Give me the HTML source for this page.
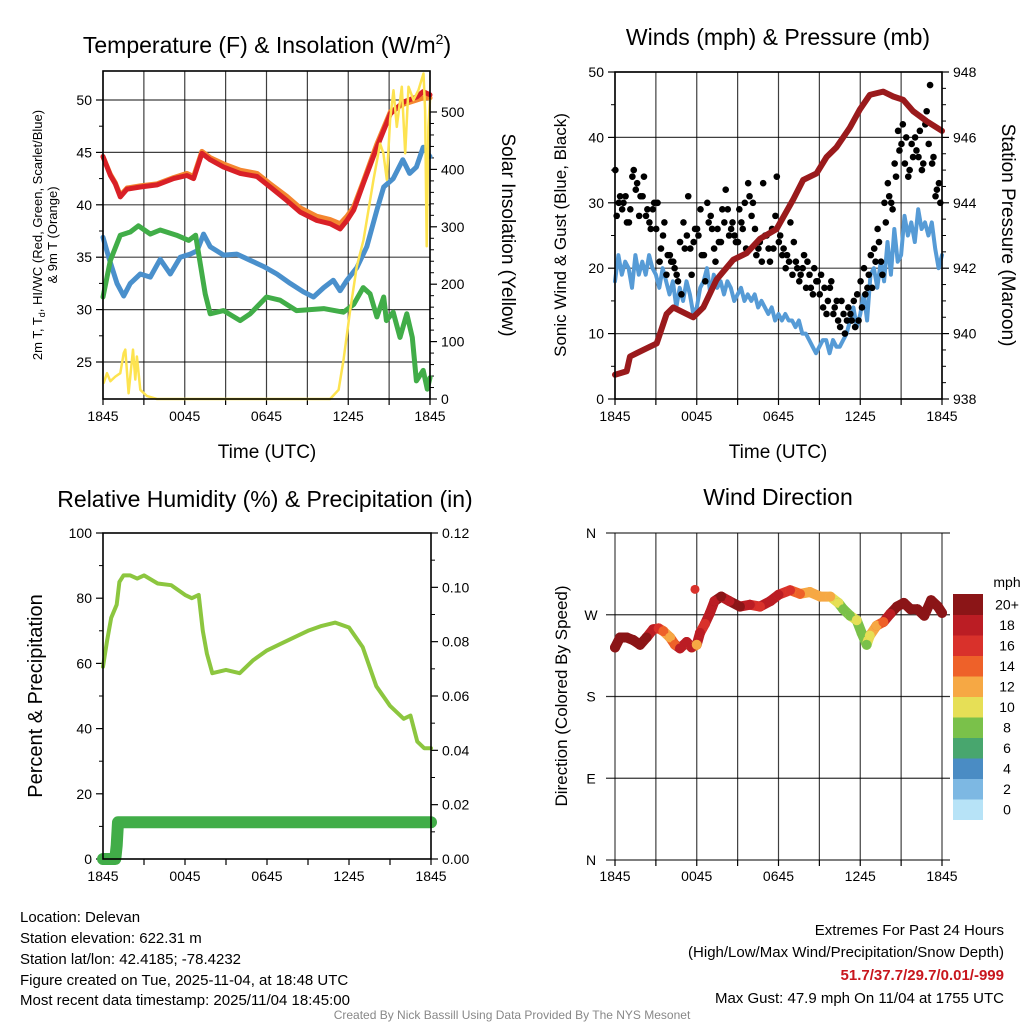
<!DOCTYPE html>
<html><head><meta charset="utf-8"><style>
body{margin:0;background:#fff}
svg{display:block;font-family:"Liberation Sans",sans-serif}
</style></head><body>
<svg id="s" width="1024" height="1024" viewBox="0 0 1024 1024" xmlns="http://www.w3.org/2000/svg">
<g id="static">
<text x="267" y="53" font-size="23" text-anchor="middle">Temperature (F) &amp; Insolation (W/m<tspan dy="-9" font-size="14">2</tspan><tspan dy="9">)</tspan></text>
<text x="778" y="45" font-size="23" text-anchor="middle">Winds (mph) &amp; Pressure (mb)</text>
<text x="265" y="507" font-size="23" text-anchor="middle">Relative Humidity (%) &amp; Precipitation (in)</text>
<text x="778" y="505" font-size="23" text-anchor="middle">Wind Direction</text>
<text x="267" y="458" font-size="19" text-anchor="middle">Time (UTC)</text>
<text x="778" y="458" font-size="19" text-anchor="middle">Time (UTC)</text>
<text transform="translate(42,235) rotate(-90)" font-size="13" text-anchor="middle">2m T, T<tspan font-size="9" dy="3">d</tspan><tspan dy="-3">, HI/WC (Red, Green, Scarlet/Blue)</tspan></text>
<text transform="translate(57,235) rotate(-90)" font-size="13" text-anchor="middle">&amp; 9m T (Orange)</text>
<text transform="translate(502,235) rotate(90)" font-size="19" text-anchor="middle">Solar Insolation (Yellow)</text>
<text transform="translate(566,235) rotate(-90)" font-size="17" text-anchor="middle">Sonic Wind &amp; Gust (Blue, Black)</text>
<text transform="translate(1002,235) rotate(90)" font-size="19" text-anchor="middle">Station Pressure (Maroon)</text>
<text transform="translate(42,696) rotate(-90)" font-size="20" text-anchor="middle">Percent &amp; Precipitation</text>
<text transform="translate(567,696) rotate(-90)" font-size="17" text-anchor="middle">Direction (Colored By Speed)</text>
<g font-size="15">
<text x="20" y="922">Location: Delevan</text>
<text x="20" y="943">Station elevation: 622.31 m</text>
<text x="20" y="964">Station lat/lon: 42.4185; -78.4232</text>
<text x="20" y="985">Figure created on Tue, 2025-11-04, at 18:48 UTC</text>
<text x="20" y="1005">Most recent data timestamp: 2025/11/04 18:45:00</text>
</g>
<g font-size="15" text-anchor="end">
<text x="1004" y="935">Extremes For Past 24 Hours</text>
<text x="1004" y="957">(High/Low/Max Wind/Precipitation/Snow Depth)</text>
<text x="1004" y="980" fill="#c8161d" font-weight="bold">51.7/37.7/29.7/0.01/-999</text>
<text x="1004" y="1003">Max Gust: 47.9 mph On 11/04 at 1755 UTC</text>
</g>
<text x="512" y="1019" font-size="12" fill="#888" text-anchor="middle">Created By Nick Bassill Using Data Provided By The NYS Mesonet</text>
</g>
<g id="dyn"></g>
</svg>
<script>
// ---------- Temperature panel data (hours since 1845) ----------
const redT=[0,0.54,0.9,1.27,1.76,2.74,3.96,5.18,6.16,6.65,7.26,7.87,8.85,10.07,11.3,12.27,13.5,14.47,15.7,16.67,17.4,17.9,18.4,19.1,20.1,21.1,22.05,23.03,23.5,24];
const redV=[44.6,42.8,42,40.75,41.5,41.7,41.9,42.5,42.8,42.5,44.9,44.3,43.6,43,42.7,41.7,40.4,39.3,38.5,38.2,37.7,38.5,39.5,42,45.5,48.7,49.8,50.3,50.8,50.5];
const orangeV=[44.6,42.9,42.1,40.9,41.6,41.8,42,42.6,43,42.7,45.1,44.5,43.9,43.3,43,42,40.8,39.7,38.9,38.6,38.2,38.9,39.8,42.2,45.8,48.9,49.6,50,50.2,50.2];
const blueT=[0,0.42,1.03,1.52,2,2.74,3.47,4.2,4.94,5.67,6.4,6.9,7.38,7.87,8.85,9.83,10.8,11.8,12.76,13.74,14.7,15.45,16.2,16.9,17.4,17.9,18.63,19.36,20.1,20.6,21.3,22,22.5,23,23.5,24];
const blueV=[36.9,35,32.5,31.3,32.5,33.4,33.1,34.8,33.4,35,35.3,35.6,37.2,36,35.2,35.3,34.7,34.1,33.4,32.5,31.7,31.2,32.1,32.8,31.8,32.8,34,36,39.5,41.7,42.5,44.3,43,43.6,45.5,44.6];
const greenT=[0,0.54,1.27,2,2.6,3.47,4.2,5.4,6.3,6.8,7.1,7.5,7.87,8.85,10.07,10.8,12,13,14.2,16.2,17.65,18.4,19.1,19.6,20.1,20.6,20.8,21.3,21.8,22.3,22.7,23,23.5,23.8,24];
const greenV=[31.2,34.7,37.1,37.4,38,37.2,37.6,37.1,36.6,37.1,34.7,31.5,29.6,29.9,28.95,29.6,31.2,30.9,29.9,30.1,29.75,30.5,32.1,31.5,29.3,31.2,28.95,29.75,27.35,29.6,27.35,23.2,24.2,22.4,23.5];
const solT=[0.05,0.29,0.54,0.9,1.27,1.52,1.64,1.88,2.2,2.37,2.49,2.74,3.23,3.96,16.67,17.29,17.65,18.14,18.63,19.12,19.85,20.34,20.58,20.83,21.07,21.32,21.56,21.93,22.18,22.42,22.79,23.15,23.52,23.64,23.76,23.88,24];
const solV=[28,45,31,39,45,80,86,10,86,34,74,16,5,0,0,16,68,155,231,277,382,445,428,382,486,538,474,544,428,544,521,538,567,503,266,474,521];
const tempTicks=[25,30,35,40,45,50];
const solTicks=[0,100,200,300,400,500];
const timeLabels=["1845","0045","0645","1245","1845"];
// ---------- Wind panel data ----------
const windV=[18,22,19,21,20,17,22,19,21,19,22,20,19,17,20,18,16,18,14,17,15,18,16,13,14,17,18,20,16,19,17,18,16,18,17,15,16,17,15,16,15,16,14,15,14,13,14,12,13,12,13,12,12,11,12,10,10,9,8,7,8,9,9,7,9,8,8,9,10,12,14,11,13,16,12,19,20,17,21,18,24,19,26,21,22,28,25,27,24,29,26,27,25,27,23,20,22];
const gustA=[28,31,30,27,29,35,33,31,34,29,26,30,30,23,27,22,21,20,18,16,23,31,19,26,25,22,18,27,26,21,24,29,32,25,27,24,29,26,23,31,30,22,24,33,25,21,23,34,25,23,22,27,24,20,19,22,21,17,20,18,19,17,15,18,14,12,15,10,14,12,11,12,14,16,19,17,21,24,19,27,31,29,34,38,42,40,35,37,38,41,36,44,48,37,32,30];
const gustB=[35,30,29,31,27,34,32,28,31,28,27,29,26,21,25,19,22,21,19,24,27,25,23,24,26,29,22,30,28,23,26,24,27,29,26,25,24,27,30,33,28,26,23,21,25,23,26,28,24,22,20,21,19,21,18,20,17,19,16,18,16,14,13,17,13,15,11,13,12,13,15,16,18,20,17,22,23,26,21,30,33,30,36,41,39,36,34,39,40,37,35,42,39,36,31,33];
const presT=[0,0.86,1.1,2.08,3.06,3.79,4.28,5.75,6.48,7.46,8.68,9.66,10.64,11.86,13.08,13.81,14.79,15.53,16.26,17.24,17.97,18.7,19.68,20.42,21.15,21.88,22.86,24];
const presV=[938.74,938.85,939.3,939.5,939.7,940.6,940.8,940.5,940.8,941.65,942.26,942.46,942.9,943.2,944.1,944.7,944.9,945.4,945.7,946.3,946.85,947.3,947.4,947.25,947.15,946.8,946.5,946.2];
const windTicks=[0,10,20,30,40,50];
const presTicks=[938,940,942,944,946,948];
// ---------- Humidity panel ----------
const rhT=[0,0.3,0.6,1,1.2,1.5,2,2.5,3,4,5,6,6.5,7,7.3,7.6,8,9,10,11,12,13,14,15,16,17,18,19,20,21,22,22.5,23,23.5,24];
const rhV=[59,67,74,78,85,87,87,86,87,84.5,84,81,80,81,70,63,57,58,57,61,64,66,68,70,71.5,72.5,71,65,53,47,43,44,36,34,34];
const prT=[0,0.9,1,1.1,24];
const prV=[0,0,0.005,0.0135,0.0135];
const rhTicks=[0,20,40,60,80,100];
const prTicks=["0.00","0.02","0.04","0.06","0.08","0.10","0.12"];
// ---------- Wind direction ----------
const dirT=[0,0.37,0.86,1.35,1.84,2.32,2.8,3.2,3.55,4.04,4.4,4.77,5.26,5.63,6,6.24,6.6,6.97,7.3,7.8,8.4,9.17,9.9,10.64,11.4,12,12.85,13.58,14.3,15.06,15.8,16.4,16.76,17.25,17.74,18.1,18.47,18.7,19.2,19.7,20.2,20.7,21.2,21.7,22.2,22.7,23.2,23.7,24];
const dirV=[234,245,245,242,237,245,254,255,252,245,237,233,240,234,237,250,260,272,285,290,285,279,281,279,285,292,297,293,295,290,290,283,276,269,264,250,237,247,258,262,271,279,283,276,276,269,286,279,272];
const dirS=[20,20,20,20,20,20,18,16,14,12,14,18,18,18,12,18,16,18,18,20,18,20,18,16,18,18,16,14,12,12,12,10,8,8,10,8,8,10,12,14,18,20,20,20,20,20,20,20,20];
const outlierT=[5.87], outlierV=[298], outlierS=[16];
const dirLabels=["N","E","S","W","N"];
const barLabels=["0","2","4","6","8","10","12","14","16","18","20+"];
const barColors=["#b7e3f7","#7db8e3","#4a8cc4","#48a66e","#7ac14a","#e6df56","#f6a844","#ee6129","#d9312b","#bb1d24","#8b1517"];

const NS="http://www.w3.org/2000/svg";
const G=document.getElementById('dyn');
function mk(tag,a,parent){const e=document.createElementNS(NS,tag);for(const k in a)e.setAttribute(k,a[k]);(parent||G).appendChild(e);return e;}
function lin(d0,d1,r0,r1){return v=>r0+(v-d0)*(r1-r0)/(d1-d0);}
function pathD(ts,vs,fx,fy){return ts.map((t,i)=>(i?'L':'M')+fx(t).toFixed(1)+','+fy(vs[i]).toFixed(1)).join(' ');}
function speedColor(s){return barColors[Math.min(10,Math.round(s/2))];}

function frame(x0,x1,y0,y1,name){
  const r=mk('rect',{x:x0,y:y0,width:x1-x0,height:y1-y0,fill:'none',stroke:'#000','stroke-width':1.6});
  
  
}
function xAxis(x0,x1,y0,y1,labY,grid,name){
  const fx=lin(0,24,x0,x1);
  for(let h=0;h<=24;h+=3){
    if(grid){const l=mk('line',{x1:fx(h),x2:fx(h),y1:y0,y2:y1,stroke:'#000','stroke-width':1.2,opacity:0.75});
      
      }
    const tk=mk('line',{x1:fx(h),x2:fx(h),y1:y1,y2:y1+6,stroke:'#000','stroke-width':1.2});
    
    
  }
  timeLabels.forEach((s,i)=>{const t=mk('text',{x:fx(i*6),y:labY,'font-size':14,'text-anchor':'middle'});t.textContent=s;
    
    });
  return fx;
}
function yTicks(vals,labels,fy,x,side,grid,gx0,gx1,name,minor){
  vals.forEach((v,i)=>{
    const y=fy(v);
    if(grid){const l=mk('line',{x1:gx0,x2:gx1,y1:y,y2:y,stroke:'#000','stroke-width':1.2,opacity:0.75});
      
      }
    const tk=mk('line',{x1:x,x2:x+(side<0?-7:7),y1:y,y2:y,stroke:'#000','stroke-width':1.2});
    
    
    const t=mk('text',{x:x+(side<0?-11:11),y:y+5,'font-size':14,'text-anchor':side<0?'end':'start'});
    t.textContent=labels[i];
    
    
    if(minor&&i<vals.length-1){for(let k=1;k<minor;k++){const yy=fy(v+(vals[i+1]-v)*k/minor);
      const m=mk('line',{x1:x,x2:x+(side<0?-4:4),y1:yy,y2:yy,stroke:'#000','stroke-width':1});
      
      }}
  });
}
function line(ts,vs,fx,fy,color,w,name){
  const p=mk('path',{d:pathD(ts,vs,fx,fy),fill:'none',stroke:color,'stroke-width':w,'stroke-linejoin':'round','stroke-linecap':'round'});
  
  
}

// ===== Panel 1 =====
(function(){
  const X0=103,X1=430,Y0=71,Y1=399;
  const fy=lin(25,50,362,100), fs=lin(0,500,399,112);
  const fx=xAxis(X0,X1,Y0,Y1,421,true,'temp');
  yTicks(tempTicks,tempTicks.map(String),fy,X0,-1,true,X0,X1,'temp-y',2);
  yTicks(solTicks,solTicks.map(String),fs,X1,1,false,0,0,'insolation-y',5);
  line(redT,orangeV,fx,fy,'#f4862f',5,'orange-9m-temp-line');
  line(redT,redV,fx,fy,'#d92027',5,'red-2m-temp-line');
  line(blueT,blueV,fx,fy,'#4a90cc',5,'blue-dewpoint-line');
  line(greenT,greenV,fx,fy,'#41ad48',5,'green-heat-index-line');
  line(solT,solV,fx,fs,'#fde350',2.5,'yellow-insolation-line');
  frame(X0,X1,Y0,Y1,'temp-plot-frame');
})();
// ===== Panel 2 =====
(function(){
  const X0=615,X1=942,Y0=72,Y1=399;
  const fy=lin(0,50,399,72), fp=lin(938,948,399,72);
  const fx=xAxis(X0,X1,Y0,Y1,421,true,'wind');
  yTicks(windTicks,windTicks.map(String),fy,X0,-1,true,X0,X1,'wind-y',2);
  yTicks(presTicks,presTicks.map(String),fp,X1,1,false,0,0,'pressure-y',4);
  const wt=windV.map((v,i)=>i*24/(windV.length-1));
  line(wt,windV,fx,fy,'#569bd6',4,'blue-sonic-wind-line');
  gustA.forEach((v,i)=>{const c=mk('circle',{cx:fx((i+0.5)*24/gustA.length),cy:fy(v),r:3.3,fill:'#000'});
    
    });
  gustB.forEach((v,i)=>{const c=mk('circle',{cx:fx((i+0.1)*24/gustB.length),cy:fy(v),r:3.3,fill:'#000'});
    
    });
  line(presT,presV,fx,fp,'#9a1a1c',6,'maroon-pressure-line');
  frame(X0,X1,Y0,Y1,'wind-plot-frame');
})();
// ===== Panel 3 =====
(function(){
  const X0=103,X1=431,Y0=533,Y1=859;
  const fy=lin(0,100,859,533), fp=lin(0,0.12,859,533);
  const fx=xAxis(X0,X1,Y0,Y1,881,false,'humidity');
  yTicks(rhTicks,rhTicks.map(String),fy,X0,-1,false,0,0,'humidity-y',2);
  yTicks(prTicks.map(Number),prTicks,fp,X1,1,false,0,0,'precip-y',2);
  line(rhT,rhV,fx,fy,'#8cc63f',4,'relative-humidity-line');
  line(prT,prV,fx,fp,'#41ad48',12,'precipitation-line');
  frame(X0,X1,Y0,Y1,'humidity-plot-frame');
})();
// ===== Panel 4 =====
(function(){
  const X0=615,X1=942,Y0=533,Y1=860;
  const fy=lin(0,360,860,533);
  const fx=xAxis(X0,X1,Y0,Y1,881,true,'direction');
  dirLabels.forEach((s,i)=>{const y=fy(i*90);
    const l=mk('line',{x1:606,x2:950,y1:y,y2:y,stroke:'#000','stroke-width':1.2,opacity:0.8});
    
    
    const t=mk('text',{x:591,y:y+5,'font-size':14,'text-anchor':'middle'});t.textContent=s;
    
    });
  for(let i=1;i<dirT.length;i++){
    const l=mk('line',{x1:fx(dirT[i-1]),y1:fy(dirV[i-1]),x2:fx(dirT[i]),y2:fy(dirV[i]),stroke:speedColor(dirS[i]),'stroke-width':10,'stroke-linecap':'round'});
    
    
  }
  dirT.forEach((t,i)=>{const c=mk('circle',{cx:fx(t),cy:fy(dirV[i]),r:5,fill:speedColor(dirS[i])});
    
    });
  outlierT.forEach((t,i)=>{const c=mk('circle',{cx:fx(t),cy:fy(outlierV[i]),r:4.5,fill:speedColor(outlierS[i])});
    
    });
  // colorbar
  const bx=953,bw=30,bTop=594,bh=20.5;
  barColors.forEach((c,i)=>{const y=bTop+(10-i)*bh;
    const r=mk('rect',{x:bx,y:y,width:bw,height:bh+0.5,fill:c});
    
    
    const t=mk('text',{x:1007,y:y+bh/2+5,'font-size':14,'text-anchor':'middle'});t.textContent=barLabels[i];
    
    });
  const u=mk('text',{x:1007,y:587,'font-size':14,'text-anchor':'middle'});u.textContent='mph';
  
  
})();
</script>
</body></html>
